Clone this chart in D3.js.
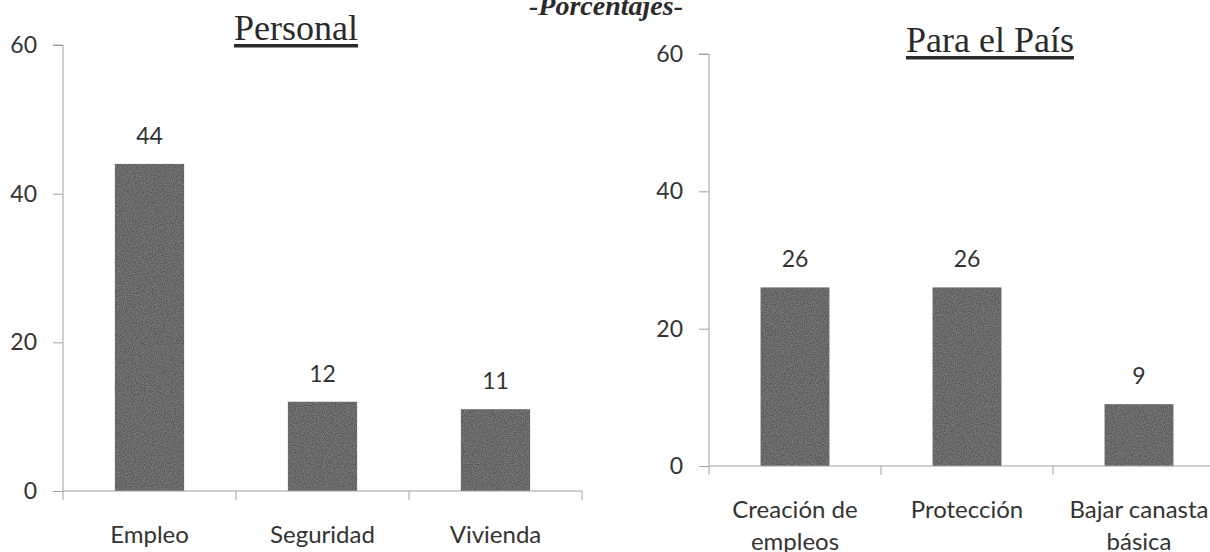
<!DOCTYPE html>
<html>
<head>
<meta charset="utf-8">
<script src="https://cdn.jsdelivr.net/npm/d3@7"></script>
<style>
  body { margin: 0; background: #ffffff; }
  svg { display: block; }
  .lbl { font-family: Lato, "Open Sans", sans-serif; fill: #333; }
  .ttl { font-family: "Liberation Serif", serif; fill: #2a2a2a; }
</style>
</head>
<body>
<svg id="chart" width="1210" height="552"></svg>
<script>
// chart data
var headerText = "-Porcentajes-";
var yTickValues = [0, 20, 40, 60];

var personalTitle = "Personal";
var personalCats = ["Empleo", "Seguridad", "Vivienda"];
var personalVals = [44, 12, 11];

var paisTitle = "Para el País";
var paisCats = ["Creación de|empleos", "Protección", "Bajar canasta|básica"];
var paisVals = [26, 26, 9];

var svg = d3.select("#chart");
var barColor = "#575757";
var axisColor = "#a0a0a0";

// grainy fill to mimic the scanned bars
var defs = svg.append("defs");
var flt = defs.append("filter").attr("id", "grain").attr("x", 0).attr("y", 0).attr("width", 1).attr("height", 1);
flt.append("feTurbulence").attr("type", "fractalNoise").attr("baseFrequency", 0.9).attr("numOctaves", 2).attr("seed", 3).attr("result", "noise");
flt.append("feColorMatrix").attr("in", "noise").attr("type", "matrix")
    .attr("values", "0 0 0 0 0.35  0 0 0 0 0.35  0 0 0 0 0.35  0 0 0 0.9 -0.25").attr("result", "n2");
flt.append("feComposite").attr("in", "n2").attr("in2", "SourceGraphic").attr("operator", "in").attr("result", "n3");
flt.append("feMerge").selectAll("feMergeNode").data(["SourceGraphic", "n3"]).enter()
    .append("feMergeNode").attr("in", function (d) { return d; });

/* Draw one bar chart panel */
function drawPanel(opts)
{
    var x = d3.scaleBand()
        .domain(opts.cats)
        .range([opts.x0, opts.x1])
        .paddingInner(0.6)
        .paddingOuter(0.3);

    var y = d3.scaleLinear()
        .domain([0, 60])
        .range([opts.yBase, opts.yTop]);

    var g = svg.append("g");

    // y axis
    var yAxis = d3.axisLeft(y)
        .tickValues(yTickValues)
        .tickSize(10)
        .tickPadding(16);
    var ya = g.append("g")
        .attr("transform", "translate(" + opts.x0 + ",0)")
        .call(yAxis);
    ya.select(".domain").attr("stroke", axisColor).attr("d", "M-10," + y(60) + "H0V" + y(0));
    ya.selectAll(".tick line").attr("stroke", axisColor);
    ya.selectAll(".tick text")
        .attr("class", "lbl")
        .style("font-size", "23px")
        .attr("fill", "#333");

    // bars
    g.selectAll("rect.bar")
        .data(opts.vals)
        .enter()
        .append("rect")
        .attr("class", "bar")
        .attr("x", function (d, i) { return x(opts.cats[i]); })
        .attr("y", function (d) { return y(d); })
        .attr("width", x.bandwidth())
        .attr("height", function (d) { return y(0) - y(d); })
        .attr("fill", barColor)
        .attr("filter", "url(#grain)");

    // value labels
    g.selectAll("text.val")
        .data(opts.vals)
        .enter()
        .append("text")
        .attr("class", "lbl")
        .attr("x", function (d, i) { return x(opts.cats[i]) + x.bandwidth() / 2; })
        .attr("y", function (d) { return y(d) - 20; })
        .attr("text-anchor", "middle")
        .style("font-size", "23px")
        .text(function (d) { return d; });

    // x axis line + boundary ticks
    g.append("line")
        .attr("x1", opts.x0).attr("x2", opts.x1)
        .attr("y1", y(0)).attr("y2", y(0))
        .attr("stroke", axisColor);
    var bounds = d3.range(opts.cats.length + 1).map(function (i) { return opts.x0 + i * x.step(); });
    g.selectAll("line.xt")
        .data(bounds)
        .enter()
        .append("line")
        .attr("x1", function (d) { return d; })
        .attr("x2", function (d) { return d; })
        .attr("y1", y(0))
        .attr("y2", y(0) + 9)
        .attr("stroke", axisColor);

    // category labels (| = line break)
    var cl = g.selectAll("text.cat")
        .data(opts.cats)
        .enter()
        .append("text")
        .attr("class", "lbl")
        .attr("text-anchor", "middle")
        .style("font-size", "24px")
        .attr("transform", function (d) { return "translate(" + (x(d) + x.bandwidth() / 2) + "," + (y(0) + 52) + ")"; });
    cl.selectAll("tspan")
        .data(function (d) { return d.split("|"); })
        .enter()
        .append("tspan")
        .attr("x", 0)
        .attr("dy", function (d, i) { return i === 0 ? 0 : 32; })
        .text(function (d) { return d; });

    // underlined title
    var t = g.append("text")
        .attr("class", "ttl")
        .attr("x", opts.titleX)
        .attr("y", opts.titleY)
        .attr("text-anchor", "middle")
        .style("font-size", "36px")
        .text(opts.title);
    var bb = t.node().getBBox();
    g.append("rect")
        .attr("x", bb.x)
        .attr("y", opts.titleY + 4)
        .attr("width", bb.width)
        .attr("height", 3.5)
        .attr("fill", "#2a2a2a");
}

drawPanel({
    cats: personalCats, vals: personalVals, title: personalTitle,
    x0: 63, x1: 582, yBase: 491, yTop: 45,
    titleX: 296, titleY: 40
});

drawPanel({
    cats: paisCats, vals: paisVals, title: paisTitle,
    x0: 709, x1: 1225, yBase: 466, yTop: 54,
    titleX: 990, titleY: 52
});

svg.append("text")
    .attr("class", "ttl")
    .attr("x", 606)
    .attr("y", 15)
    .attr("text-anchor", "middle")
    .style("font-size", "28px")
    .style("font-weight", "bold")
    .style("font-style", "italic")
    .text(headerText);
</script>
</body>
</html>
